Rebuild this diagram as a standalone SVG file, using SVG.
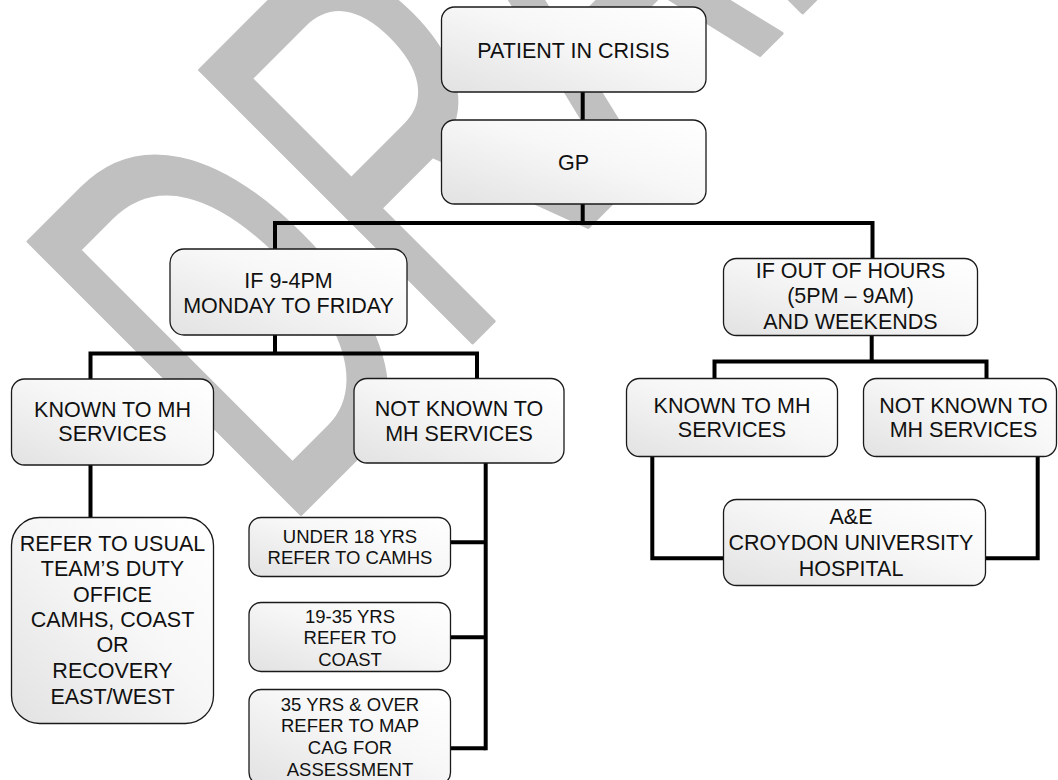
<svg xmlns="http://www.w3.org/2000/svg" width="1058" height="780" viewBox="0 0 1058 780">
<defs>
<linearGradient id="boxfill" x1="1" y1="0" x2="0" y2="1">
<stop offset="0" stop-color="#ffffff"/>
<stop offset="0.45" stop-color="#f7f7f7"/>
<stop offset="1" stop-color="#e2e2e2"/>
</linearGradient>
<style>
.box{fill:url(#boxfill);stroke:#1a1a1a;stroke-width:1.3}
.t{font-family:"Liberation Sans",Arial,sans-serif;font-size:21.5px;fill:#111;text-anchor:middle}
.s{font-family:"Liberation Sans",Arial,sans-serif;font-size:18.5px;fill:#111;text-anchor:middle}
.c{fill:none;stroke:#000;stroke-width:4;stroke-linecap:butt;stroke-linejoin:miter}
.wm{font-family:"Liberation Sans",Arial,sans-serif;font-size:560px;fill:#c0c0c0;stroke:#c0c0c0;stroke-width:3;stroke-linejoin:round;vector-effect:non-scaling-stroke}
</style>
</defs>
<rect width="1058" height="780" fill="#ffffff"/>
<g id="watermark">
<text class="wm" transform="translate(281,534) rotate(-45) scale(0.6,1)" x="0" y="0">DRAFT</text>
</g>
<g id="connectors">
<line class="c" x1="582.7" y1="92" x2="582.7" y2="120"/>
<line class="c" x1="582.7" y1="204" x2="582.7" y2="223"/>
<polyline class="c" points="275,249 275,223 872.5,223 872.5,258.5"/>
<polyline class="c" points="90.5,379 90.5,353.5 477,353.5 477,378.5"/>
<line class="c" x1="275" y1="335" x2="275" y2="353.5"/>
<line class="c" x1="90.5" y1="465" x2="90.5" y2="517.5"/>
<polyline class="c" points="714.5,378.5 714.5,361.5 986.5,361.5 986.5,378.5"/>
<line class="c" x1="871.7" y1="335.5" x2="871.7" y2="361.5"/>
<polyline class="c" points="652.3,456.5 652.3,558.3 1037.7,558.3 1037.7,456.5"/>
<line class="c" x1="485.7" y1="463" x2="485.7" y2="750.3"/>
<line class="c" x1="450.5" y1="542.3" x2="485.7" y2="542.3"/>
<line class="c" x1="450.5" y1="637.3" x2="485.7" y2="637.3"/>
<line class="c" x1="450.5" y1="748.3" x2="485.7" y2="748.3"/>
</g>
<g id="patient">
<rect class="box" x="441.5" y="7" width="264.5" height="85" rx="13"/>
<text class="t" x="573.5" y="57.5">PATIENT IN CRISIS</text>
</g>
<g id="gp">
<rect class="box" x="441.5" y="120" width="264.5" height="84" rx="13"/>
<text class="t" x="573.5" y="170">GP</text>
</g>
<g id="weekday">
<rect class="box" x="170" y="249" width="237" height="86" rx="14"/>
<text class="t" x="288.5" y="287.5">IF 9-4PM</text>
<text class="t" x="288.5" y="313">MONDAY TO FRIDAY</text>
</g>
<g id="out-of-hours">
<rect class="box" x="723.5" y="258.5" width="254" height="77" rx="13"/>
<text class="t" x="850.5" y="277.5">IF OUT OF HOURS</text>
<text class="t" x="850.5" y="303">(5PM – 9AM)</text>
<text class="t" x="850.5" y="329">AND WEEKENDS</text>
</g>
<g id="known-left">
<rect class="box" x="11.5" y="379" width="202" height="86" rx="13"/>
<text class="t" x="112.5" y="416.7">KNOWN TO MH</text>
<text class="t" x="112.5" y="441">SERVICES</text>
</g>
<g id="not-known-left">
<rect class="box" x="354" y="378.5" width="210" height="84.5" rx="13"/>
<text class="t" x="459" y="415.5">NOT KNOWN TO</text>
<text class="t" x="459" y="441">MH SERVICES</text>
</g>
<g id="known-right">
<rect class="box" x="626.5" y="378.5" width="211" height="78" rx="13"/>
<text class="t" x="732" y="412.7">KNOWN TO MH</text>
<text class="t" x="732" y="437.3">SERVICES</text>
</g>
<g id="not-known-right">
<rect class="box" x="863.5" y="378.5" width="193" height="78" rx="13"/>
<text class="t" x="963.5" y="412.5">NOT KNOWN TO</text>
<text class="t" x="963.5" y="437">MH SERVICES</text>
</g>
<g id="ae">
<rect class="box" x="723.5" y="499.5" width="262" height="86" rx="13"/>
<text class="t" x="851" y="524.3">A&amp;E</text>
<text class="t" x="851" y="550">CROYDON UNIVERSITY</text>
<text class="t" x="851" y="575.5">HOSPITAL</text>
</g>
<g id="refer-usual">
<rect class="box" x="11.5" y="517.5" width="202" height="206" rx="28"/>
<text class="t" x="112.5" y="550.7">REFER TO USUAL</text>
<text class="t" x="112.5" y="576">TEAM’S DUTY</text>
<text class="t" x="112.5" y="601.7">OFFICE</text>
<text class="t" x="112.5" y="626.7">CAMHS, COAST</text>
<text class="t" x="112.5" y="652.3">OR</text>
<text class="t" x="112.5" y="678.3">RECOVERY</text>
<text class="t" x="112.5" y="704">EAST/WEST</text>
</g>
<g id="under-18">
<rect class="box" x="249" y="517.5" width="201.5" height="59" rx="12"/>
<text class="s" x="350" y="543.3">UNDER 18 YRS</text>
<text class="s" x="350" y="564.3">REFER TO CAMHS</text>
</g>
<g id="age-19-35">
<rect class="box" x="249" y="602.5" width="201.5" height="69" rx="12"/>
<text class="s" x="350" y="622.7">19-35 YRS</text>
<text class="s" x="350" y="644.3">REFER TO</text>
<text class="s" x="350" y="666">COAST</text>
</g>
<g id="age-35-over">
<rect class="box" x="249" y="689.5" width="201.5" height="95" rx="12"/>
<text class="s" x="350" y="710.7">35 YRS &amp; OVER</text>
<text class="s" x="350" y="732.3">REFER TO MAP</text>
<text class="s" x="350" y="754">CAG FOR</text>
<text class="s" x="350" y="775.7">ASSESSMENT</text>
</g>
</svg>
